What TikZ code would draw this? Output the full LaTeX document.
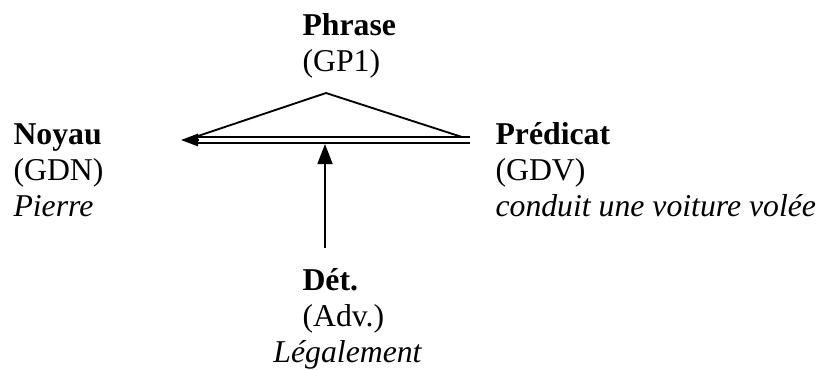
\documentclass[tikz,border=0pt]{standalone}
\usepackage{fontspec}
\setmainfont{Liberation Serif}
\usetikzlibrary{arrows.meta}

\begin{document}
\begin{tikzpicture}[x=0.375pt,y=-0.375pt,
txt/.style={anchor=north west,inner sep=0pt,align=left,font=\fontsize{11.9}{13.5}\selectfont},
branch/.style={line width=0.7pt},
link/.style={double,line width=0.75pt,double distance=1.5pt},
head/.style={-{Triangle[length=6.4pt,width=4.6pt]},line width=0.75pt},
arrow/.style={-{Triangle[length=7.5pt,width=5.6pt]},line width=0.75pt}]
\useasboundingbox (0,0) rectangle (821,369);
\node[txt] (phrase) at (302,10) {\strut\textbf{Phrase}\\(GP1)};
\node[txt] (noyau) at (13,119) {\strut\textbf{Noyau}\\(GDN)\\\textit{Pierre}};
\node[txt] (predicat) at (495,119) {\strut\textbf{Prédicat}\\(GDV)\\\textit{conduit une voiture volée}};
\node[txt] (det) at (302,265) {\strut\textbf{Dét.}\\(Adv.)\\\hspace*{-10.9pt}\textit{Légalement}};
\coordinate (apex) at (326,93);
\coordinate (nl) at (195,137);
\coordinate (pr) at (462,137);
\coordinate (lend) at (181,140);
\coordinate (rend) at (470,140);
\coordinate (base) at (198,140);
\coordinate (foot) at (325,248);
\coordinate (hit) at (325,144);
\draw[branch] (nl) -- (apex) -- (pr);
\draw[link] (rend) -- (base);
\draw[head] (base) -- (lend);
\draw[arrow] (foot) -- (hit);
\end{tikzpicture}
\end{document}
